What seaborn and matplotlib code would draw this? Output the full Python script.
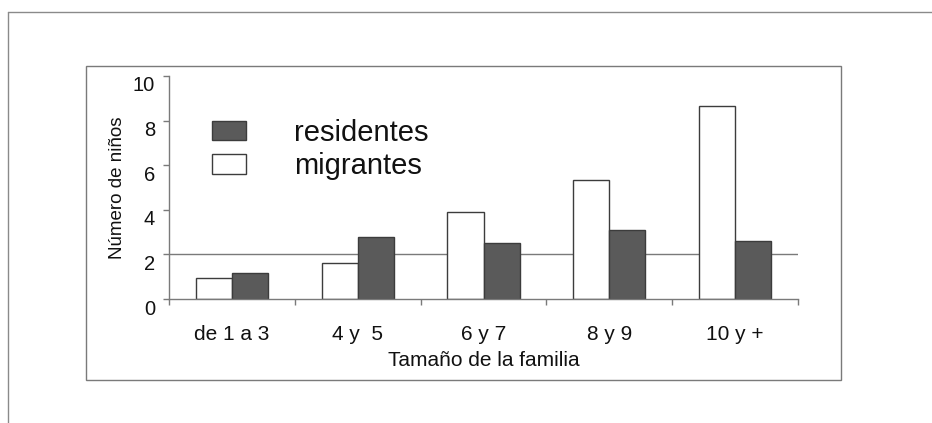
import numpy as np
import pandas as pd
import seaborn as sns
import matplotlib
matplotlib.use("Agg")
import matplotlib.pyplot as plt
from matplotlib.patches import Patch, Rectangle
from matplotlib.lines import Line2D
from matplotlib.transforms import ScaledTranslation

# --- data -------------------------------------------------------------
categorias = ["de 1 a 3", "4 y  5", "6 y 7", "8 y 9", "10 y +"]
migrantes = [0.93, 1.60, 3.89, 5.34, 8.65]
residentes = [1.15, 2.77, 2.52, 3.09, 2.60]
referencia = 2
yticks = [0, 2, 4, 6, 8, 10]

df = pd.DataFrame({
    "familia": categorias * 2,
    "grupo": ["migrantes"] * len(categorias) + ["residentes"] * len(categorias),
    "ninos": migrantes + residentes,
})

# --- style ------------------------------------------------------------
sns.set_theme(style="white")
plt.rcParams["font.family"] = ["Liberation Sans", "DejaVu Sans"]

DARK = "#5a5a5a"
EDGE = "#3c3c3c"
LINE = "#7a7a7a"
TEXT = "#111111"

fig = plt.figure(figsize=(9.32, 4.23), dpi=100)
ax = fig.add_axes([169 / 932, 1 - 299 / 423, 629 / 932, 223 / 423])

# reference line behind the bars
ax.axhline(referencia, color=LINE, lw=1.0, zorder=0)

sns.barplot(
    data=df, x="familia", y="ninos", hue="grupo",
    order=categorias, hue_order=["migrantes", "residentes"],
    palette={"migrantes": "white", "residentes": DARK},
    edgecolor=EDGE, linewidth=1.0, width=0.575, gap=0,
    legend=False, ax=ax, zorder=2,
)

ax.set_xlim(-0.5, len(categorias) - 0.5)
ax.set_ylim(0, 10)
ax.set_yticks(yticks)
ax.set_yticklabels([str(v) for v in yticks], fontsize=14.5, color=TEXT)

# category labels centred, tick marks on the category boundaries
ax.set_xticks(range(len(categorias)))
ax.set_xticklabels(categorias, fontsize=15, color=TEXT)
ax.set_xticks(np.arange(-0.5, len(categorias)), minor=True)
ax.tick_params(axis="x", which="major", length=0, pad=19)
ax.tick_params(axis="x", which="minor", length=4, width=1, color=LINE,
               direction="out", bottom=True)
ax.tick_params(axis="y", which="major", length=4, width=1, color=LINE,
               direction="out", left=True, pad=6)

for side in ("top", "right"):
    ax.spines[side].set_visible(False)
for side in ("left", "bottom"):
    ax.spines[side].set_color(LINE)
    ax.spines[side].set_linewidth(1.0)

shift = ScaledTranslation(0, -8 / 100, fig.dpi_scale_trans)
for lab in ax.get_yticklabels():
    lab.set_transform(lab.get_transform() + shift)

ax.set_xlabel("Tamaño de la familia", fontsize=15, labelpad=5, color=TEXT)
ax.set_ylabel("Número de niños", fontsize=13.5, labelpad=5, color=TEXT)

# legend
handles = [
    Patch(facecolor=DARK, edgecolor=EDGE, lw=1.0, label="residentes"),
    Patch(facecolor="white", edgecolor=EDGE, lw=1.0, label="migrantes"),
]
fig.legend(handles=handles, loc="upper left",
           bbox_to_anchor=(212 / 932, 1 - 119 / 423),
           frameon=False, fontsize=21, borderpad=0, borderaxespad=0,
           handlelength=1.15, handleheight=0.65, handletextpad=1.65,
           labelspacing=0.18, labelcolor=TEXT)

# page frame lines
fig.add_artist(Line2D([8 / 932, 1], [1 - 12.5 / 423] * 2,
                      transform=fig.transFigure, color="#8a8a8a", lw=1.0))
fig.add_artist(Line2D([8 / 932] * 2, [0, 1 - 12.5 / 423],
                      transform=fig.transFigure, color="#8a8a8a", lw=1.0))
fig.add_artist(Rectangle((86 / 932, 1 - 380 / 423), (841 - 86) / 932,
                         (380 - 66) / 423, transform=fig.transFigure,
                         fill=False, edgecolor="#7a7a7a", lw=1.0))

fig.savefig("out.png", dpi=100, facecolor="white")
